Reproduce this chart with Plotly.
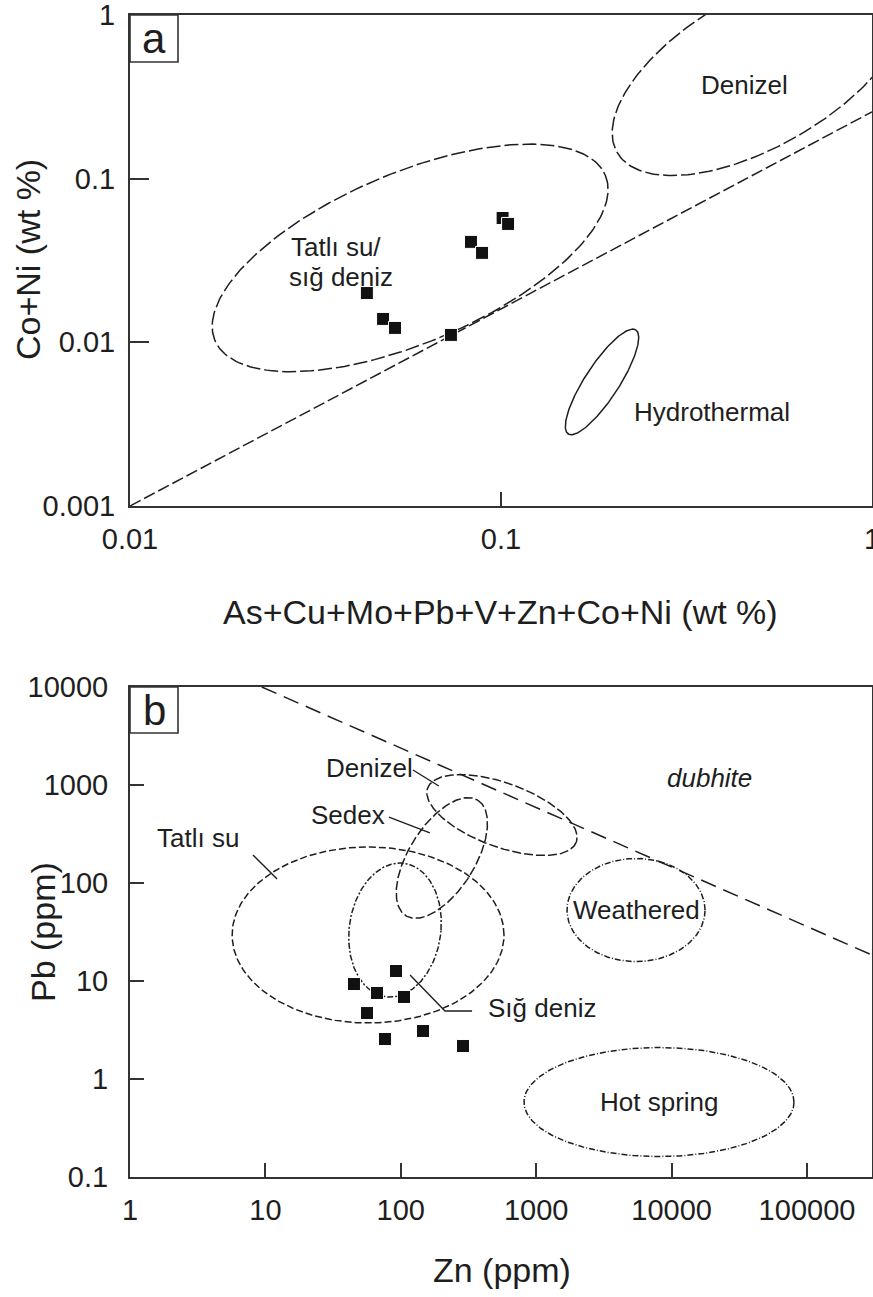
import numpy as np
import plotly.graph_objects as go

# ---------------- data: panel a (Co+Ni vs. sum of trace metals, wt %) ----------------
a_sum_metals = [0.101, 0.1045, 0.083, 0.0889, 0.0435, 0.0481, 0.0518, 0.0733]
a_co_ni = [0.0575, 0.0529, 0.0411, 0.0352, 0.0200, 0.0139, 0.01225, 0.0111]

# discrimination line (end points)
a_line_x = [0.01, 1.0]
a_line_y = [0.001, 0.256]

# fields: centre (data units) and two conjugate semi-axes in decades (dx, dy)
a_fields = {
    "tatli": dict(center=(0.0569, 0.0328), A=(0.526, 0.505), B=(0.089, -0.478)),
    "denizel": dict(center=(0.499, 0.461), A=(0.385, 0.504), B=(0.1024, -0.402)),
    "hydro": dict(center=(0.1872, 0.00573), A=(0.0911, 0.3177), B=(0.0385, -0.0567)),
}

# ---------------- data: panel b (Pb vs. Zn, ppm) ----------------
b_zn = [45.1, 92.2, 66.7, 105.6, 56.3, 76.4, 145.9, 288.0]
b_pb = [9.31, 12.65, 7.54, 6.87, 4.71, 2.56, 3.09, 2.17]

b_line_x = [9.4, 3.02e5]
b_line_y = [10000, 18.4]

b_fields = {
    "tatli": dict(center=(57.3, 29.5), A=(1.004, 0.0), B=(0.0, 0.898)),
    "sig": dict(center=(90.6, 33.1), A=(0.34, 0.0), B=(0.037, 0.684)),
    "sedex": dict(center=(201, 180), A=(0.266, 0.589), B=(0.2067, -0.1786)),
    "denizel": dict(center=(559, 494), A=(0.549, -0.2755), B=(-0.0808, -0.307)),
    "weathered": dict(center=(5460, 53), A=(0.51, 0.0), B=(0.0, 0.526)),
    "hotspring": dict(center=(8070, 0.582), A=(0.997, 0.0), B=(0.0, 0.556)),
}

# leader lines for panel b labels (data units)
b_leaders = {
    "denizel": ([123, 191], [1422, 977]),
    "sedex": ([81.8, 164], [471, 324]),
    "tatli": ([8.1, 12.2], [193, 110]),
    "sig": ([117, 212, 336], [11.5, 4.94, 4.94]),
}

INK = "#1e1e1e"
AXIS = "#333333"
FONT = "Liberation Sans, Arial, sans-serif"


def ellipse(center, A, B, n=240):
    t = np.linspace(0, 2 * np.pi, n)
    lx = np.log10(center[0]) + A[0] * np.cos(t) + B[0] * np.sin(t)
    ly = np.log10(center[1]) + A[1] * np.cos(t) + B[1] * np.sin(t)
    return 10 ** lx, 10 ** ly


fig = go.Figure()


def add_line(x, y, xa, ya, dash, width=1.5):
    fig.add_trace(go.Scatter(x=x, y=y, mode="lines", xaxis=xa, yaxis=ya,
                             line=dict(color=INK, width=width, dash=dash),
                             hoverinfo="skip", showlegend=False))


# panel a
add_line(a_line_x, a_line_y, "x", "y", "12px,4px")
for key, dash in [("tatli", "14px,4px"), ("denizel", "14px,4px"), ("hydro", "solid")]:
    ex, ey = ellipse(**a_fields[key])
    add_line(ex, ey, "x", "y", dash)
fig.add_trace(go.Scatter(x=a_sum_metals, y=a_co_ni, mode="markers", xaxis="x", yaxis="y",
                         marker=dict(symbol="square", size=13, color="#111",
                                     line=dict(color="white", width=1)),
                         showlegend=False))

# panel b
add_line(b_line_x, b_line_y, "x2", "y2", "16px,8px")
b_styles = {
    "tatli": "7px,3px",
    "sig": "6px,2px,2px,2px",
    "sedex": "9px,3px",
    "denizel": "9px,3px",
    "weathered": "6px,2px,1px,2px",
    "hotspring": "6px,2px,1px,2px",
}
for key, dash in b_styles.items():
    ex, ey = ellipse(**b_fields[key])
    add_line(ex, ey, "x2", "y2", dash)
for key, (lx, ly) in b_leaders.items():
    add_line(lx, ly, "x2", "y2", "solid", width=1.4)
fig.add_trace(go.Scatter(x=b_zn, y=b_pb, mode="markers", xaxis="x2", yaxis="y2",
                         marker=dict(symbol="square", size=13, color="#111",
                                     line=dict(color="white", width=1)),
                         showlegend=False))

W, H = 873, 1297
xdom = [130 / W, 872 / W]
ya_dom = [1 - 506 / H, 1 - 15 / H]
yb_dom = [1 - 1177 / H, 1 - 687 / H]

tickfont = dict(family=FONT, size=29, color=INK)


def log_axis(dom, rng, vals, texts, ticklen, anchor, standoff):
    return dict(type="log", domain=dom, range=rng, tickvals=vals, ticktext=texts,
                ticks="inside", ticklen=ticklen, tickwidth=1.6, tickcolor=AXIS,
                showline=True, linecolor=AXIS, linewidth=2, mirror=True,
                showgrid=False, zeroline=False, tickfont=tickfont,
                ticklabelstandoff=standoff, ticklabeloverflow="allow",
                automargin=False, anchor=anchor)


fig.update_layout(
    width=W, height=H,
    margin=dict(l=0, r=0, t=0, b=0),
    paper_bgcolor="white", plot_bgcolor="white",
    showlegend=False,
    xaxis=log_axis(xdom, [-2, 0], [0.01, 0.1, 1], ["0.01", "0.1", "1"], 14, "y", 6),
    yaxis=log_axis(ya_dom, [-3, 0], [0.001, 0.01, 0.1, 1],
                   ["0.001", "0.01", "0.1", "1"], 19, "x", 7),
    xaxis2=log_axis(xdom, [0, np.log10(3.02e5)], [1, 10, 100, 1000, 10000, 100000],
                    ["1", "10", "100", "1000", "10000", "100000"], 14, "y2", 6),
    yaxis2=log_axis(yb_dom, [-1, 4], [0.1, 1, 10, 100, 1000, 10000],
                    ["0.1", "1", "10", "100", "1000", "10000"], 14, "x2", 14),
)

ann = []


def label(text, x, y, xref, yref, size=26, xanchor="center", yanchor="middle", italic=False):
    ann.append(dict(text=f"<i>{text}</i>" if italic else text, x=x, y=y,
                    xref=xref, yref=yref, showarrow=False,
                    xanchor=xanchor, yanchor=yanchor,
                    font=dict(family=FONT, size=size, color=INK)))


# panel a labels (log axes: annotation positions in log10 units)
label("Denizel", np.log10(0.452), np.log10(0.3736), "x", "y")
label("Tatlı su/", np.log10(0.0268), np.log10(0.0383), "x", "y", xanchor="left")
label("sığ deniz", np.log10(0.0265), np.log10(0.0251), "x", "y", xanchor="left")
label("Hydrothermal", np.log10(0.2254), np.log10(0.00376), "x", "y", xanchor="left")

# panel b labels
label("Denizel", np.log10(127), np.log10(1490), "x2", "y2", xanchor="right")
label("Sedex", np.log10(79), np.log10(494), "x2", "y2", xanchor="right")
label("Tatlı su", np.log10(1.53), np.log10(288), "x2", "y2", xanchor="left")
label("Sığ deniz", np.log10(426), np.log10(5.3), "x2", "y2", xanchor="left")
label("Weathered", np.log10(5460), np.log10(53), "x2", "y2")
label("Hot spring", np.log10(8070), np.log10(0.58), "x2", "y2")
label("dubhite", np.log10(18900), np.log10(1178), "x2", "y2", italic=True)

# panel letters
label("a", 24 / 742, 1 - 23.5 / 491, "x domain", "y domain", size=42)
label("b", 24 / 742, 1 - 23 / 490, "x2 domain", "y2 domain", size=42)

# axis titles
title_font = 34
label("As+Cu+Mo+Pb+V+Zn+Co+Ni (wt %)", 501 / W, 1 - 612 / H, "paper", "paper", size=title_font)
label("Zn (ppm)", 502 / W, 1 - 1270 / H, "paper", "paper", size=title_font)
ann.append(dict(text="Co+Ni (wt %)", x=28 / W, y=1 - 260 / H, xref="paper", yref="paper",
                textangle=-90, showarrow=False, xanchor="center", yanchor="middle",
                font=dict(family=FONT, size=title_font, color=INK)))
ann.append(dict(text="Pb (ppm)", x=43 / W, y=1 - 932 / H, xref="paper", yref="paper",
                textangle=-90, showarrow=False, xanchor="center", yanchor="middle",
                font=dict(family=FONT, size=title_font, color=INK)))

fig.update_layout(annotations=ann)

# boxes around panel letters
fig.add_shape(type="rect", xref="x domain", yref="y domain",
              x0=0, x1=48 / 742, y0=1 - 47 / 491, y1=1,
              line=dict(color=AXIS, width=1.6))
fig.add_shape(type="rect", xref="x2 domain", yref="y2 domain",
              x0=0, x1=48 / 742, y0=1 - 46 / 490, y1=1,
              line=dict(color=AXIS, width=1.6))

fig.write_html("out.html")
